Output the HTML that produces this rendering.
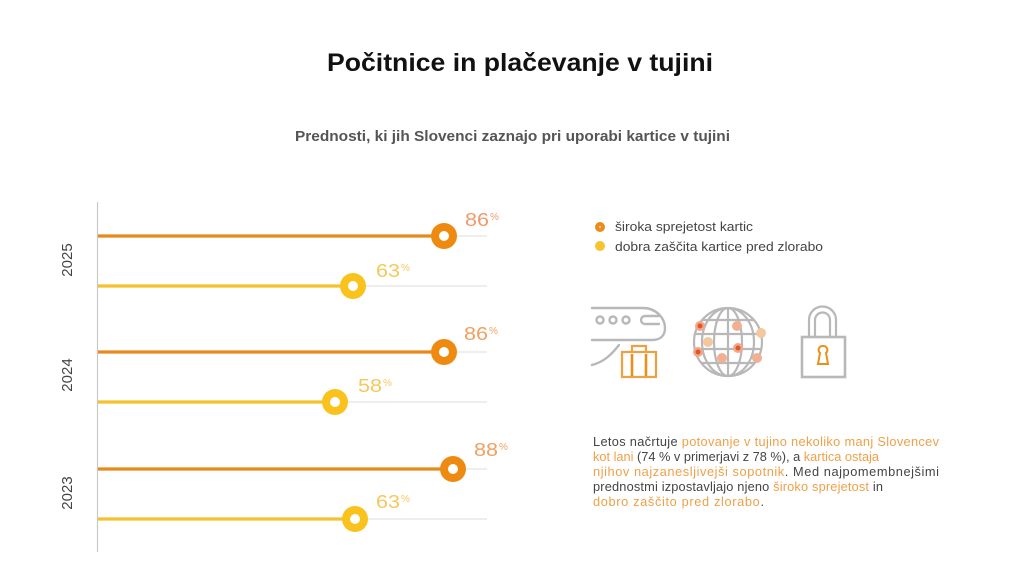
<!DOCTYPE html>
<html>
<head>
<meta charset="utf-8">
<style>
html,body{margin:0;padding:0;background:#fff;}
svg{display:block;}
text{font-family:"Liberation Sans",sans-serif;}
</style>
</head>
<body>
<svg width="1024" height="578" viewBox="0 0 1024 578" xmlns="http://www.w3.org/2000/svg">
<rect width="1024" height="578" fill="#fff"/>
<!-- Title -->
<text x="327" y="71" font-size="25" font-weight="bold" fill="#111" textLength="386" lengthAdjust="spacingAndGlyphs">Počitnice in plačevanje v tujini</text>
<text x="295" y="141" font-size="15" font-weight="bold" fill="#555" textLength="435" lengthAdjust="spacingAndGlyphs">Prednosti, ki jih Slovenci zaznajo pri uporabi kartice v tujini</text>

<!-- axis -->
<line x1="97.5" y1="202" x2="97.5" y2="552" stroke="#c8c8c8" stroke-width="1.2"/>

<!-- year labels -->
<text transform="translate(72,260) rotate(-90)" text-anchor="middle" font-size="15" fill="#444">2025</text>
<text transform="translate(72,375) rotate(-90)" text-anchor="middle" font-size="15" fill="#444">2024</text>
<text transform="translate(72,493) rotate(-90)" text-anchor="middle" font-size="15" fill="#444">2023</text>

<!-- gray guide lines -->
<g stroke="#dedede" stroke-width="1">
<line x1="98" y1="236" x2="487" y2="236"/>
<line x1="98" y1="286" x2="487" y2="286"/>
<line x1="98" y1="352" x2="487" y2="352"/>
<line x1="98" y1="402" x2="487" y2="402"/>
<line x1="98" y1="469" x2="487" y2="469"/>
<line x1="98" y1="519" x2="487" y2="519"/>
</g>

<!-- bars -->
<g stroke-width="3.2">
<line x1="98" y1="236" x2="444" y2="236" stroke="#e8891c"/>
<line x1="98" y1="286" x2="353" y2="286" stroke="#f5c12e"/>
<line x1="98" y1="352" x2="444" y2="352" stroke="#e8891c"/>
<line x1="98" y1="402" x2="335" y2="402" stroke="#f5c12e"/>
<line x1="98" y1="469" x2="453" y2="469" stroke="#e8891c"/>
<line x1="98" y1="519" x2="355" y2="519" stroke="#f5c12e"/>
</g>
<!-- markers -->
<g>
<circle cx="444" cy="236" r="13" fill="#ef8a10"/><circle cx="444" cy="236" r="5" fill="#fff"/>
<circle cx="353" cy="286" r="13" fill="#f9c21d"/><circle cx="353" cy="286" r="5" fill="#fff"/>
<circle cx="444" cy="352" r="13" fill="#ef8a10"/><circle cx="444" cy="352" r="5" fill="#fff"/>
<circle cx="335" cy="402" r="13" fill="#f9c21d"/><circle cx="335" cy="402" r="5" fill="#fff"/>
<circle cx="453" cy="469" r="13" fill="#ef8a10"/><circle cx="453" cy="469" r="5" fill="#fff"/>
<circle cx="355" cy="519" r="13" fill="#f9c21d"/><circle cx="355" cy="519" r="5" fill="#fff"/>
</g>

<!-- value labels -->
<g font-size="18">
<text x="465" y="226" fill="#f09a6c" textLength="24" lengthAdjust="spacingAndGlyphs">86</text><text x="490" y="220" font-size="10" fill="#f09a6c">%</text>
<text x="376" y="277" fill="#f5c85a" textLength="24" lengthAdjust="spacingAndGlyphs">63</text><text x="401" y="271" font-size="10" fill="#f5c85a">%</text>
<text x="464" y="340" fill="#f0a060" textLength="24" lengthAdjust="spacingAndGlyphs">86</text><text x="489" y="334" font-size="10" fill="#f0a060">%</text>
<text x="358" y="392" fill="#f5c85a" textLength="24" lengthAdjust="spacingAndGlyphs">58</text><text x="383" y="386" font-size="10" fill="#f5c85a">%</text>
<text x="474" y="456" fill="#f0a060" textLength="24" lengthAdjust="spacingAndGlyphs">88</text><text x="499" y="450" font-size="10" fill="#f0a060">%</text>
<text x="376" y="508" fill="#f5c85a" textLength="24" lengthAdjust="spacingAndGlyphs">63</text><text x="401" y="502" font-size="10" fill="#f5c85a">%</text>
</g>

<!-- legend -->
<circle cx="600" cy="227" r="5" fill="#ec8a1a"/>
<circle cx="600" cy="227" r="1.2" fill="#f8c890"/>
<circle cx="600" cy="246" r="5" fill="#f8c230"/>
<text x="615" y="231" font-size="13" fill="#444" textLength="138" lengthAdjust="spacingAndGlyphs">široka sprejetost kartic</text>
<text x="615" y="251" font-size="13" fill="#444" textLength="208" lengthAdjust="spacingAndGlyphs">dobra zaščita kartice pred zlorabo</text>

<!-- plane icon -->
<g fill="none" stroke="#b8b8b8" stroke-width="2.4" stroke-linecap="round">
<path d="M592,308 L643,308 C656,308 665,318 665,328 C665,336 660,340 652,340 L592,340"/>
<circle cx="600" cy="320" r="3.5"/>
<circle cx="613" cy="320" r="3.5"/>
<circle cx="626" cy="320" r="3.5"/>
<path d="M659,316 L645,316 A4,4 0 0 0 645,324 L659,324"/>
<path d="M592,365 C604,362 612,354 619,345"/>
</g>
<g fill="none" stroke="#f0a040" stroke-width="2.2">
<rect x="622" y="352" width="34" height="25"/>
<path d="M632,352 L632,346 L646,346 L646,352"/>
</g>
<g stroke="#e8901a" stroke-width="2.6">
<line x1="632" y1="354" x2="632" y2="376"/>
<line x1="646" y1="354" x2="646" y2="376"/>
</g>

<!-- globe icon -->
<defs><clipPath id="gc"><circle cx="728" cy="342" r="34"/></clipPath></defs>
<g fill="none" stroke="#b8b8b8" stroke-width="2.2">
<circle cx="728" cy="342" r="34"/>
<g clip-path="url(#gc)">
<line x1="728" y1="306" x2="728" y2="378"/>
<ellipse cx="728" cy="342" rx="14" ry="34"/>
<ellipse cx="728" cy="342" rx="26" ry="34"/>
<line x1="690" y1="320" x2="766" y2="320"/>
<line x1="690" y1="334" x2="766" y2="334"/>
<line x1="690" y1="349" x2="766" y2="349"/>
<line x1="690" y1="363" x2="766" y2="363"/>
</g>
</g>
<g>
<circle cx="700" cy="326" r="5" fill="#f3a78a"/><circle cx="700" cy="326" r="2.5" fill="#e0552a"/>
<circle cx="737" cy="326" r="5" fill="#f2b093"/>
<circle cx="761" cy="333" r="5" fill="#f3c89c"/>
<circle cx="708" cy="342" r="5" fill="#f3c89c"/>
<circle cx="698" cy="352" r="5" fill="#f3a78a"/><circle cx="698" cy="352" r="2.5" fill="#e0552a"/>
<circle cx="738" cy="348" r="5" fill="#f3a78a"/><circle cx="738" cy="348" r="2.5" fill="#e0552a"/>
<circle cx="722" cy="358" r="5" fill="#f2b093"/>
<circle cx="757" cy="358" r="5" fill="#f2b093"/>
</g>

<!-- lock icon -->
<g fill="none" stroke="#b8b8b8" stroke-width="2.2">
<path d="M809,337 L809,320 A13.5,13.5 0 0 1 836,320 L836,337"/>
<path d="M815,337 L815,320 A7.5,7.5 0 0 1 830,320 L830,337"/>
<rect x="802" y="337" width="43" height="40" stroke-width="2.6"/>
</g>
<path d="M823,346 A4,4 0 0 1 826,353 L828,364 L818,364 L820,353 A4,4 0 0 1 823,346 Z" fill="none" stroke="#e8901a" stroke-width="2"/>

<!-- paragraph -->
<g font-size="12.8" fill="#444">
<text x="593" y="446" textLength="346" lengthAdjust="spacing">Letos načrtuje <tspan fill="#f0a048">potovanje v tujino nekoliko manj Slovencev</tspan></text>
<text x="593" y="461" textLength="286" lengthAdjust="spacing"><tspan fill="#f0a048">kot lani</tspan> (74 % v primerjavi z 78 %), a <tspan fill="#f0a048">kartica ostaja</tspan></text>
<text x="593" y="476" textLength="346" lengthAdjust="spacing"><tspan fill="#f0a048">njihov najzanesljivejši sopotnik</tspan>. Med najpomembnejšimi</text>
<text x="593" y="491" textLength="290" lengthAdjust="spacing">prednostmi izpostavljajo njeno <tspan fill="#f0a048">široko sprejetost</tspan> in</text>
<text x="593" y="506" textLength="171" lengthAdjust="spacing"><tspan fill="#f0a048">dobro zaščito pred zlorabo</tspan>.</text>
</g>
</svg>
</body>
</html>
